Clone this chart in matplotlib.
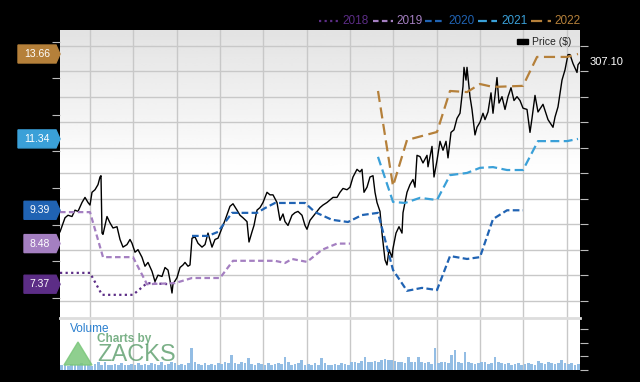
import matplotlib.pyplot as plt
import numpy as np
from matplotlib.lines import Line2D
from matplotlib.patches import Polygon, Rectangle

plt.rcParams['font.family'] = ['Liberation Sans', 'DejaVu Sans']

# weeks since start of chart, close price ($)
price_week = [0, 1.5, 2.4, 3.6, 4.5, 5.4, 6.6, 7.5, 8.4, 9.0, 9.6, 10.5, 11.4, 12.0, 12.3, 12.6, 12.9,
              14.1, 15.0, 15.9, 17.1, 18.0, 18.9, 20.1, 21.0, 21.6, 22.5, 23.4, 24.6, 25.5, 26.4, 27.6,
              28.5, 29.4, 30.6, 31.5, 32.4, 33.0, 33.6, 33.9, 35.1, 36.0, 36.9, 37.5, 38.4, 39.0, 39.6,
              40.5, 41.4, 42.6, 43.5, 44.4, 45.6, 46.5, 47.4, 48.6, 49.5, 51.0, 51.9, 53.1, 54.0, 54.9,
              56.1, 56.7, 57.6, 58.2, 59.1, 60.0, 60.9, 62.1, 63.0, 63.9, 65.1, 66.0, 66.9, 67.5, 68.4,
              69.6, 70.5, 71.4, 72.6, 73.5, 74.1, 75.0, 75.9, 77.1, 78.0, 78.9, 80.1, 81.0, 81.9, 83.1,
              84.0, 84.9, 86.1, 87.0, 87.9, 89.1, 90.0, 90.6, 91.2, 92.1, 93.0, 93.9, 94.5, 95.1, 96.0,
              96.6, 97.5, 98.1, 98.7, 99.6, 99.9, 100.8, 101.7, 102.6, 102.9, 104.1, 105.0, 105.9, 106.5,
              107.1, 108.0, 108.9, 110.1, 110.4, 111.6, 112.2, 113.1, 114.0, 114.9, 115.8, 116.4, 117.3,
              118.2, 119.1, 120.0, 120.9, 121.2, 121.8, 122.1, 123.0, 123.6, 124.5, 125.1, 126.0, 126.9,
              127.5, 128.4, 129.3, 129.9, 131.1, 131.7, 132.6, 133.5, 134.4, 135.3, 136.2, 137.1, 138.0,
              138.9, 140.1, 141.0, 141.6, 142.5, 143.4, 144.9, 146.4, 147.9, 148.5, 149.4, 150.6, 151.5,
              152.4, 153.0, 153.9, 155.1, 155.4, 156.0]
price = [174, 185, 187, 186, 191, 190, 197, 201, 197, 195, 205, 207, 211, 217, 218, 173, 172,
         186, 181, 177, 178, 168, 162, 164, 168, 165, 158, 160, 154, 147, 150, 143,
         135, 140, 139, 146, 144, 136, 126, 133, 138, 146, 148, 150, 147, 148, 169,
         170, 165, 162, 164, 173, 162, 168, 169, 177, 183, 194, 196, 191, 187, 185,
         182, 166, 174, 179, 191, 193, 197, 205, 203, 203, 197, 183, 188, 182, 179,
         187, 189, 190, 187, 179, 176, 183, 186, 190, 193, 195, 197, 199, 201, 201,
         205, 208, 207, 209, 217, 223, 221, 223, 205, 209, 217, 218, 205, 197, 190,
         173, 152, 148, 160, 154, 161, 173, 178, 173, 189, 205, 211, 215, 209,
         234, 233, 228, 234, 225, 241, 217, 230, 245, 238, 245, 232, 252,
         254, 263, 267, 288, 303, 293, 303, 280, 270, 250, 256, 260, 267,
         262, 268, 283, 267, 295, 275, 280, 270, 280, 287, 277, 280, 277,
         271, 270, 252, 263, 281, 268, 274, 262, 256, 264, 272, 293, 301,
         313, 313, 306, 299, 305, 307.1]

# consensus EPS estimate per fiscal year
eps18_week = [0, 9.0, 12.6, 21.9, 26.1, 33.0]
eps18 = [7.68, 7.68, 7.08, 7.08, 7.40, 7.37]
eps19_week = [0, 9.0, 12.9, 21.9, 26.1, 34.5, 39.6, 48.0, 51.9, 64.5, 67.5, 69.6, 74.1, 78.6, 83.1, 87.0]
eps19 = [9.34, 9.34, 8.11, 8.11, 7.37, 7.40, 7.54, 7.54, 8.01, 8.01, 7.95, 8.06, 7.98, 8.31, 8.48, 8.48]
eps20_week = [39.6, 44.4, 47.4, 51.6, 59.1, 61.5, 64.5, 73.5, 76.5, 81.6, 86.4, 90.6, 95.4, 99.9,
              104.1, 108.6, 113.1, 117.0, 122.1, 126.0, 129.9, 134.1, 138.9]
eps20 = [8.69, 8.69, 8.80, 9.32, 9.32, 9.45, 9.59, 9.59, 9.34, 9.13, 9.07, 9.26, 9.32, 7.76,
         7.19, 7.27, 7.21, 8.14, 8.06, 8.11, 9.15, 9.39, 9.39]
eps21_week = [95.4, 99.9, 103.5, 108.0, 113.1, 117.0, 122.1, 126.0, 129.9, 134.1, 138.9, 143.4, 152.1, 155.4]
eps21 = [10.85, 9.62, 9.59, 9.73, 9.67, 10.35, 10.41, 10.55, 10.57, 10.49, 10.49, 11.28, 11.28, 11.34]
eps22_week = [95.4, 99.9, 104.1, 113.1, 117.0, 122.1, 126.0, 129.9, 138.9, 143.1, 152.1, 155.4]
eps22 = [12.65, 10.05, 11.31, 11.53, 12.65, 12.62, 12.84, 12.76, 12.79, 13.58, 13.58, 13.66]

# weekly volume (millions)
volume = [0.35, 0.4, 0.3, 0.45, 0.35, 0.4, 0.5, 0.35, 0.4, 0.3, 0.45, 0.55, 0.4,
          0.6, 0.4, 0.35, 0.45, 0.4, 0.5, 0.35, 0.4, 0.45, 0.35, 0.5, 0.4, 0.45,
          0.4, 0.5, 0.45, 0.35, 0.55, 0.4, 0.45, 0.6, 0.5, 0.4, 0.45, 0.35, 0.5,
          1.6, 0.6, 0.45, 0.4, 0.5, 0.35, 0.45, 0.4, 0.5, 0.45, 0.55, 0.5, 1.1,
          0.5, 0.45, 0.6, 0.5, 0.9, 0.45, 0.4, 0.5, 0.45, 0.35, 0.5, 0.4, 0.45,
          0.5, 0.45, 0.95, 0.6, 0.4, 0.45, 0.5, 0.75, 0.4, 0.45, 0.35, 0.5, 0.4,
          0.9, 0.5, 0.4, 0.35, 0.45, 0.4, 0.5, 0.45, 0.4, 0.55, 0.6, 0.5, 0.65,
          0.95, 0.6, 0.55, 0.65, 0.6, 0.7, 0.8, 0.75, 0.7, 0.65, 0.6, 0.55, 0.5,
          0.95, 0.6, 0.55, 0.95, 0.6, 0.5, 0.55, 0.45, 1.6, 0.5, 0.55, 0.6, 0.5,
          1.1, 1.45, 0.6, 0.5, 1.3, 0.55, 0.5, 0.45, 0.5, 0.6, 0.55, 0.45, 0.5,
          0.95, 0.55, 0.5, 0.45, 0.5, 0.4, 0.45, 0.5, 0.4, 0.45, 0.5, 0.45, 0.4,
          0.65, 0.5, 0.45, 0.55, 0.5, 0.45, 0.5, 0.7, 0.5, 0.45, 0.5, 0.4, 0.45]

years = ['2018', '2019', '2020', '2021', '2022']
colors = ['#5c2d86', '#a47fc1', '#2063b3', '#3aa0d8', '#b5803a']
styles = [(0, (1, 1.5)), (0, (2.5, 1.5)), (0, (3, 1.5)), (0, (4, 2)), (0, (5, 2.5))]
eps_weeks = [eps18_week, eps19_week, eps20_week, eps21_week, eps22_week]
eps_vals = [eps18, eps19, eps20, eps21, eps22]
last_eps = [7.37, 8.48, 9.39, 11.34, 13.66]


def fx(px):
    return px / 640


def fy(py):
    return 1 - py / 382


fig = plt.figure(figsize=(6.4, 3.82), dpi=100, facecolor='black')
ax = fig.add_axes([fx(60), fy(318), 520 / 640, 288 / 382])

# gray -> white background
grad = np.concatenate([np.linspace(0.89, 1.0, 50), np.ones(50)]).reshape(-1, 1)
ax.imshow(grad, cmap='gray', vmin=0, vmax=1, extent=[0, 1, 0, 1], transform=ax.transAxes,
          aspect='auto', zorder=0)

ax.plot(price_week, price, color='black', linewidth=1.0, zorder=3)
ax.set_xlim(0, 156)
ax.set_ylim(106.4, 332.3)
ax.set_xticks(np.arange(9, 156, 13))
ax.set_yticks(np.arange(120, 321, 20))
ax.grid(True, color='#c8c8c8', linewidth=1)
for s in ax.spines.values():
    s.set_visible(False)

ax_eps = ax.twinx()
for wk, vals, c, ls in zip(eps_weeks, eps_vals, colors, styles):
    ax_eps.plot(wk, vals, color=c, linestyle=ls, linewidth=1.6)
ax_eps.set_ylim(6.447, 14.316)
ax_eps.set_yticks(np.arange(7, 15))
ax_eps.yaxis.tick_left()
ax_eps.tick_params(axis='y', length=6, color='#bbbbbb', labelleft=False, labelright=False)
for s in ax_eps.spines.values():
    s.set_visible(False)

# twinx moved the price ticks to the left, put them back
ax.yaxis.tick_right()
ax.tick_params(axis='y', length=6, color='#bbbbbb', labelright=False, labelleft=False)
ax.tick_params(axis='x', length=0, labelbottom=False)

# volume panel
ax_vol = fig.add_axes([fx(60), fy(370), 520 / 640, 52 / 382])
ax_vol.bar(np.arange(len(volume)) + 0.5, volume, width=0.85, color='#93bde4')
ax_vol.set_xlim(0, 156)
ax_vol.set_ylim(0, 3.8)
ax_vol.set_xticks(np.arange(9, 156, 13))
ax_vol.set_yticks([0, 1, 2, 3])
ax_vol.grid(True, axis='x', color='#c8c8c8', linewidth=1)
ax_vol.set_axisbelow(True)
ax_vol.yaxis.tick_right()
ax_vol.tick_params(axis='y', length=6, color='#bbbbbb', labelright=False)
ax_vol.tick_params(axis='x', length=0, labelbottom=False)
for name, s in ax_vol.spines.items():
    s.set_visible(name == 'top')
ax_vol.spines['top'].set_color('#dddddd')
ax_vol.spines['top'].set_linewidth(2)

# top legend
leg_pos = [(319, 338, 342), (373, 393, 396), (425, 445, 448), (478, 497, 501), (531, 551, 554)]
for (x0, x1, xt), yr, c, ls in zip(leg_pos, years, colors, styles):
    fig.add_artist(Line2D([fx(x0), fx(x1)], [fy(21), fy(21)], color=c, linestyle=ls,
                          linewidth=1.6, transform=fig.transFigure))
    fig.text(fx(xt), fy(21), yr, color=c, fontsize=8.5, va='center', ha='left')

fig.add_artist(Rectangle((fx(517), fy(44)), 11 / 640, 5 / 382, color='black', transform=fig.transFigure))
fig.text(fx(532), fy(42), 'Price ($)', color='#222222', fontsize=7.5, va='center', ha='left')
fig.text(fx(590), fy(62), '%.2f' % price[-1], color='white', fontsize=8, va='center', ha='left')

# EPS tags on the left
to_fig = fig.transFigure.inverted()
for v, c in zip(last_eps, colors):
    y = to_fig.transform(ax_eps.transData.transform((0, v)))[1]
    x0 = fx(18) if v >= 10 else fx(24)
    h = 9 / 382
    tag = Polygon([(x0, y - h), (fx(56), y - h), (fx(60), y), (fx(56), y + h), (x0, y + h)],
                  closed=True, color=c, transform=fig.transFigure)
    fig.add_artist(tag)
    fig.text((x0 + fx(56)) / 2, y, '%.2f' % v, color='white', fontsize=7.5, ha='center', va='center')

# volume label and watermark
fig.text(fx(70), fy(329), 'Volume', color='#2a7fcf', fontsize=8.5, va='center', ha='left')
fig.add_artist(Polygon([(fx(64), fy(365)), (fx(78), fy(342)), (fx(92), fy(365))], closed=True,
                       color='#7cc77c', alpha=0.85, transform=fig.transFigure))
fig.text(fx(97), fy(339), 'Charts by', color='#5a9e6a', alpha=0.8, fontsize=8.5,
         fontweight='bold', va='center', ha='left')
fig.text(fx(97), fy(355), 'ZACKS', color='#4f9660', alpha=0.75, fontsize=17, va='center', ha='left')

fig.savefig('out.png', dpi=100, facecolor='black')
